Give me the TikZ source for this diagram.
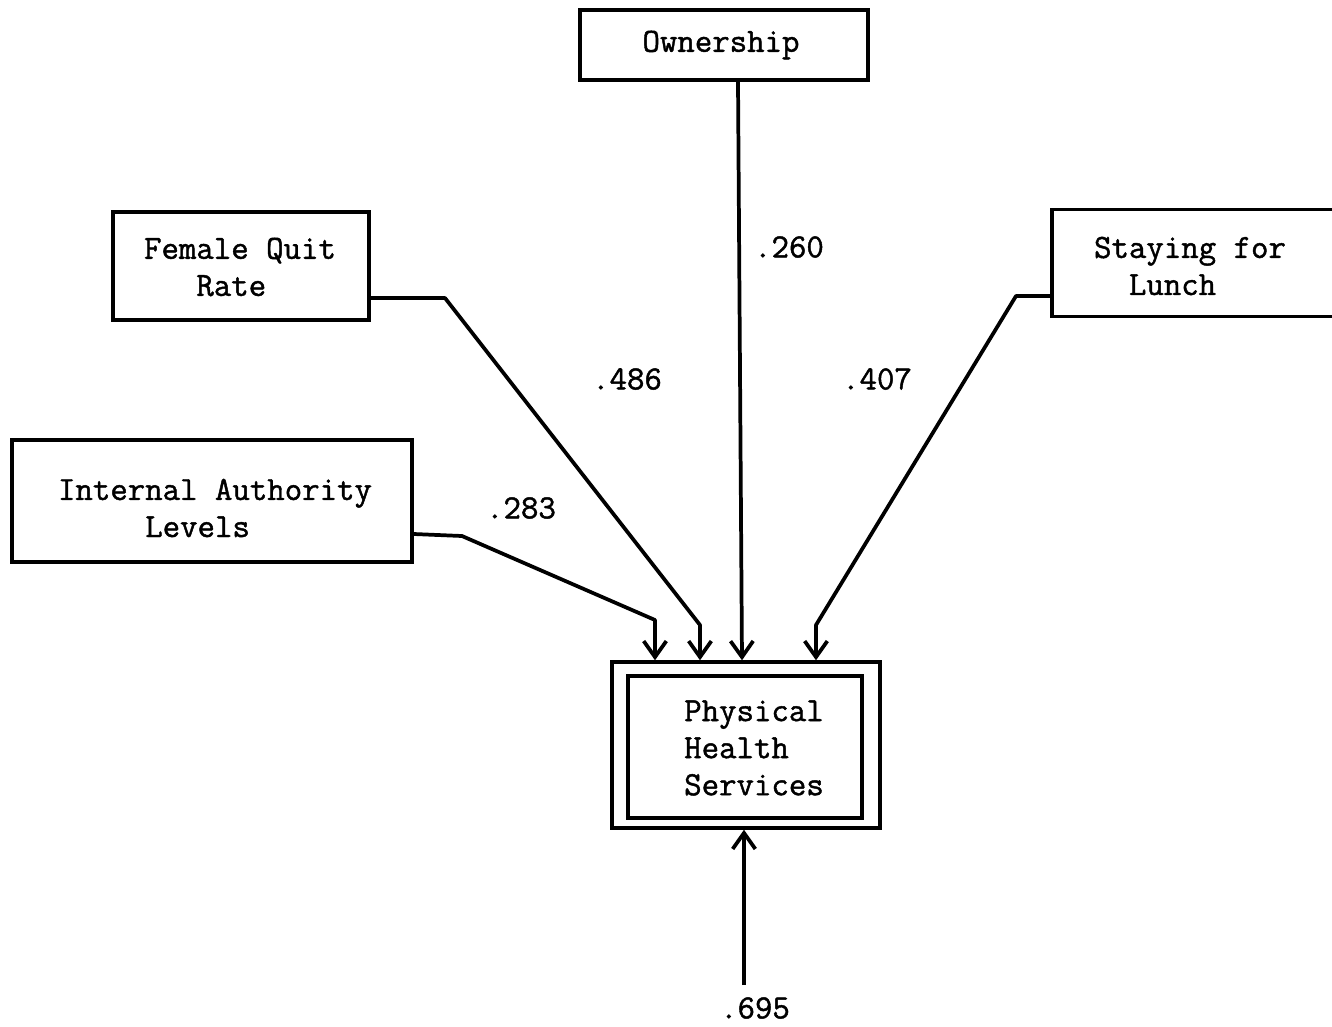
\documentclass[tikz,border=0pt]{standalone}
\usepackage{fontspec}
\setmonofont{Latin Modern Mono}[BoldFont=Latin Modern Mono, BoldFeatures={FakeBold=1.3}]
\usetikzlibrary{arrows.meta}
\begin{document}
\begin{tikzpicture}[x=0.75pt,y=-0.75pt,
  every node/.style={font=\ttfamily\bfseries\fontsize{25.4}{27.8}\selectfont},
  box/.style={draw, line width=2.6pt, inner sep=0pt},
  txt/.style={align=left, inner sep=0pt},
  link/.style={line width=2.8pt, line join=round,
    -{Straight Barb[length=12pt,width=17pt]}},
  coef/.style={inner sep=0pt}]
\useasboundingbox (0,0) rectangle (1332,1026);

% source variables
\node[box, minimum width=288*0.75pt, minimum height=70*0.75pt] (own) at (724,45) {};
\node[txt] (ownt) at (721,45) {Ownership};

\node[box, minimum width=256*0.75pt, minimum height=108*0.75pt] (fqr) at (241,266) {};
\node[txt] (fqrt) at (240,267) {Female Quit\\\phantom{xxx}Rate};

\node[box, minimum width=400*0.75pt, minimum height=122*0.75pt] (ial) at (212,501) {};
\node[txt] (ialt) at (215,508) {Internal Authority\\\phantom{xxxxx}Levels};

\node[box, minimum width=292*0.75pt, minimum height=107*0.75pt] (sfl) at (1198,263) {};
\node[txt] (sflt) at (1190,266) {Staying for\\\phantom{xx}Lunch};

% outcome variable, double frame
\node[box, minimum width=268*0.75pt, minimum height=166*0.75pt] (phs) at (746,745) {};
\node[draw, line width=3.4pt, inner sep=0pt, minimum width=234*0.75pt, minimum height=142*0.75pt] (phsi) at (745,747) {};
\node[txt] (phst) at (754,748) {Physical\\Health\\Services};

% bend points of the paths
\coordinate (o1) at (738,80);
\coordinate (o2) at (742,662);
\coordinate (f1) at (445,298);
\coordinate (f2) at (700,625);
\coordinate (f3) at (700,662);
\coordinate (i1) at (462,536);
\coordinate (i2) at (655,620);
\coordinate (i3) at (655,662);
\coordinate (s1) at (1016,296);
\coordinate (s2) at (816,625);
\coordinate (s3) at (816,662);
\coordinate (e1) at (744,985);
\coordinate (e2) at (744,828);

% paths
\draw[link] (own.south -| o1) -- (phs.north -| o2);
\draw[link] (fqr.east |- f1) -- (f1) -- (f2) -- (phs.north -| f3);
\draw[link] (ial.east |- 0,534) -- (i1) -- (i2) -- (phs.north -| i3);
\draw[link] (sfl.west |- s1) -- (s1) -- (s2) -- (phs.north -| s3);
\draw[link] (e1) -- (phs.south -| e2);

% path coefficients
\node[coef] (c1) at (789,247) {.260};
\node[coef] (c2) at (627,379) {.486};
\node[coef] (c3) at (877,379) {.407};
\node[coef] (c4) at (521,508) {.283};
\node[coef] (c5) at (755,1008) {.695};
\end{tikzpicture}
\end{document}
